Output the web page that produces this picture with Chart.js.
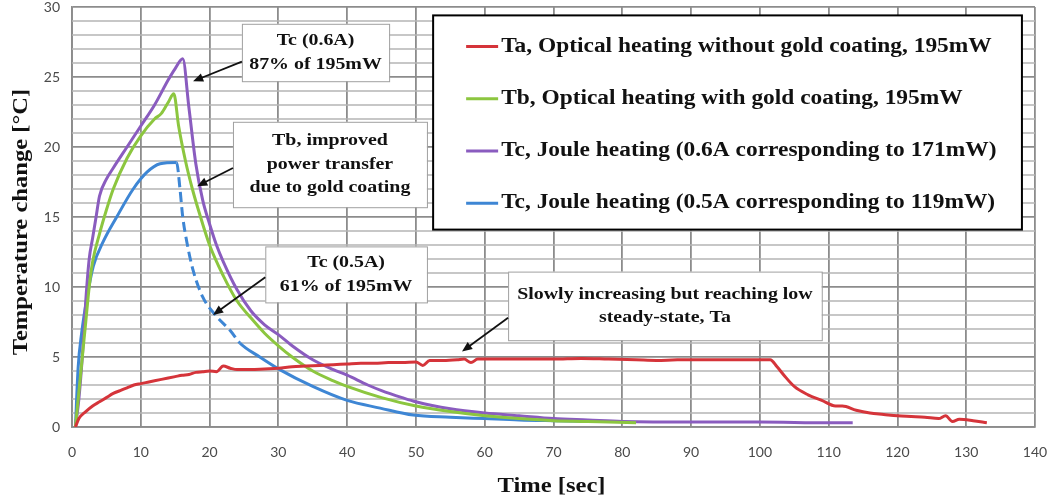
<!DOCTYPE html>
<html>
<head>
<meta charset="utf-8">
<script src="https://cdn.jsdelivr.net/npm/chart.js@4.4.0/dist/chart.umd.min.js"></script>
<style>
  html, body { margin: 0; padding: 0; background: #fff; }
  #wrap { width: 1050px; height: 502px; position: relative; }
</style>
</head>
<body>
<div id="wrap"><canvas id="tempChart"></canvas></div>
<script>
// Ta – optical heating without gold coating
const taTime = [0.5, 1, 2, 3, 4, 5, 6, 7, 8, 9, 10, 11, 12, 13, 14, 15, 16, 17, 18, 19, 20, 21, 22, 23, 24, 26, 28, 30, 32, 34, 36, 38, 40, 42, 44, 46, 48, 50, 51, 52, 54, 56, 57, 58, 59, 62, 66, 70, 74, 78, 82, 85, 88, 92, 96, 100, 101.5, 102.5, 103.5, 105, 107, 109, 111, 112, 114, 116, 118, 120, 122, 124, 126, 127, 128, 129, 131, 133];
const taVals = [0, 0.6, 1.1, 1.5, 1.8, 2.1, 2.4, 2.6, 2.8, 3.0, 3.1, 3.2, 3.3, 3.4, 3.5, 3.6, 3.7, 3.75, 3.9, 3.95, 4.0, 3.95, 4.35, 4.2, 4.1, 4.1, 4.15, 4.2, 4.3, 4.35, 4.4, 4.45, 4.5, 4.55, 4.55, 4.6, 4.6, 4.65, 4.4, 4.75, 4.75, 4.8, 4.85, 4.6, 4.85, 4.85, 4.85, 4.85, 4.9, 4.85, 4.8, 4.75, 4.8, 4.8, 4.8, 4.8, 4.8, 4.3, 3.7, 2.9, 2.3, 1.9, 1.5, 1.5, 1.2, 1.0, 0.9, 0.8, 0.75, 0.7, 0.6, 0.8, 0.4, 0.55, 0.45, 0.3];

// Tb – optical heating with gold coating
const tbTime = [0.5, 1, 1.5, 2, 2.5, 3, 4, 5, 6, 8, 10, 12, 13, 14, 14.8, 15.5, 16.5, 17.5, 18.5, 20, 22, 24, 26, 28, 30, 32, 35, 38, 40, 45, 50, 55, 60, 65, 70, 75, 78, 82];
const tbVals = [0, 2.5, 5, 7.5, 10, 11.8, 13.8, 15.5, 17, 19.2, 20.8, 22, 22.4, 23.2, 23.8, 21.5, 19, 17, 15.3, 13, 10.8, 9, 7.8, 6.7, 5.8, 5, 4, 3.3, 2.9, 2.1, 1.5, 1.1, 0.8, 0.6, 0.45, 0.4, 0.35, 0.3];

// Tc – Joule heating 0.6 A
const tc6Time = [0.5, 1, 1.5, 2, 2.5, 3, 3.5, 4, 5, 6, 8, 10, 12, 14, 15, 16.1, 17, 18, 19, 20, 21, 22, 24, 26, 28, 30, 32, 35, 38, 40, 43, 45, 48, 50, 55, 60, 65, 70, 75, 80, 90, 100, 110, 113.5];
const tc6Vals = [0, 2, 5, 9, 12, 13.5, 15, 16.5, 17.7, 18.5, 20, 21.5, 23, 24.8, 25.6, 26.3, 22.8, 18.8, 16.2, 14.5, 13, 11.8, 9.8, 8.3, 7.3, 6.6, 5.8, 4.8, 4.1, 3.7, 3.0, 2.6, 2.1, 1.8, 1.3, 1.0, 0.8, 0.6, 0.5, 0.4, 0.35, 0.35, 0.3, 0.3];

// Tc – Joule heating 0.5 A
const tc5Time = [0.5, 0.9, 1.4, 2.2, 3.1, 4.5, 6.5, 8.9, 10.9, 12.8, 15.2, 15.7, 16.1, 16.7, 17.6, 19, 21, 23, 24.4, 27.3, 30.2, 35, 40, 44.8, 49.6, 55, 60, 65, 70, 76.5];
const tc5Vals = [0, 4.3, 6.7, 9.3, 11.5, 13.2, 15.0, 17.0, 18.2, 18.8, 18.9, 17.0, 15.0, 13.2, 11.2, 9.3, 7.9, 6.9, 6.0, 5.0, 4.1, 2.9, 1.9, 1.35, 0.85, 0.7, 0.6, 0.5, 0.45, 0.4];

const seriesLabels = [
  'Ta, Optical heating without gold coating, 195mW',
  'Tb, Optical heating with gold coating, 195mW',
  'Tc, Joule heating (0.6A corresponding to 171mW)',
  'Tc, Joule heating (0.5A corresponding to 119mW)'
];
const seriesColors = ['#d5343a', '#8cc63f', '#8a5cbf', '#3e86d4'];

const xTicks = [0, 10, 20, 30, 40, 50, 60, 70, 80, 90, 100, 110, 120, 130, 140];
const yTicks = [0, 5, 10, 15, 20, 25, 30];
const yMinorStep = 1;

// callouts: box in data units, arrow from/to in data units
const callouts = [
  { lines: ['Tc (0.6A)', '87% of 195mW'], box: [24.7, 28.8, 46.1, 24.7], from: [24.7, 26.1], to: [17.6, 24.7] },
  { lines: ['Tb, improved', 'power transfer', 'due to gold coating'], box: [23.4, 21.8, 51.6, 15.7], from: [23.4, 18.5], to: [18.2, 17.2] },
  { lines: ['Tc (0.5A)', '61% of 195mW'], box: [28.1, 12.9, 51.6, 8.9], from: [28.1, 10.7], to: [20.5, 8.0] },
  { lines: ['Slowly increasing but reaching low', 'steady-state, Ta'], box: [63.4, 11.1, 109, 6.2], from: [63.4, 7.8], to: [56.7, 5.4] }
];

function pts(ts, vs) {
  return ts.map((t, i) => ({ x: t, y: vs[i] }));
}

const serif = '"Liberation Serif", "Times New Roman", serif';
const STRETCH = 1.17; // the source typeface is wider than Liberation Serif

// draw text stretched horizontally, centred or left aligned
function wideText(ctx, s, x, y, align) {
  ctx.save();
  ctx.translate(x, y);
  ctx.scale(STRETCH, 1);
  ctx.textAlign = align;
  ctx.textBaseline = 'middle';
  ctx.fillText(s, 0, 0);
  ctx.restore();
}

const overlayPlugin = {
  id: 'overlays',
  beforeDatasetsDraw(chart) {
    // minor horizontal grid, one line per degree
    const ctx = chart.ctx, a = chart.chartArea, ys = chart.scales.y;
    ctx.save();
    ctx.strokeStyle = '#b4b4b4';
    ctx.lineWidth = 1.6;
    for (let v = ys.min; v <= ys.max; v += yMinorStep) {
      if (yTicks.includes(v)) continue;
      const y = ys.getPixelForValue(v);
      ctx.beginPath();
      ctx.moveTo(a.left, y);
      ctx.lineTo(a.right, y);
      ctx.stroke();
    }
    ctx.restore();
  },
  afterDraw(chart) {
    const ctx = chart.ctx;
    const area = chart.chartArea;
    ctx.save();
    ctx.fillStyle = '#111';
    ctx.font = 'bold 21px ' + serif;
    wideText(ctx, 'Time [sec]', (area.left + area.right) / 2 - 2, 487, 'center');
    ctx.translate(22, (area.top + area.bottom) / 2 + 5);
    ctx.rotate(-Math.PI / 2);
    wideText(ctx, 'Temperature change [°C]', 0, 0, 'center');
    ctx.restore();
  },
  afterDatasetsDraw(chart) {
    const ctx = chart.ctx;
    const xs = chart.scales.x, ys = chart.scales.y;
    const px = v => xs.getPixelForValue(v);
    const py = v => ys.getPixelForValue(v);
    ctx.save();

    // callouts
    callouts.forEach(c => {
      const l = px(c.box[0]), t = py(c.box[1]), r = px(c.box[2]), b = py(c.box[3]);
      ctx.fillStyle = '#fff';
      ctx.fillRect(l, t, r - l, b - t);
      ctx.strokeStyle = '#a0a0a0';
      ctx.lineWidth = 1;
      ctx.strokeRect(l + 0.5, t + 0.5, r - l, b - t);
      ctx.fillStyle = '#111';
      ctx.font = 'bold 17px ' + serif;
      const lh = 23.5;
      const cy = (t + b) / 2 - (c.lines.length - 1) * lh / 2;
      c.lines.forEach((s, i) => wideText(ctx, s, (l + r) / 2, cy + i * lh, 'center'));

      // arrow
      const x1 = px(c.from[0]), y1 = py(c.from[1]);
      const x2 = px(c.to[0]), y2 = py(c.to[1]);
      const ang = Math.atan2(y2 - y1, x2 - x1);
      ctx.strokeStyle = '#111';
      ctx.fillStyle = '#111';
      ctx.lineWidth = 1.8;
      ctx.beginPath();
      ctx.moveTo(x1, y1);
      ctx.lineTo(x2 - 8 * Math.cos(ang), y2 - 8 * Math.sin(ang));
      ctx.stroke();
      ctx.beginPath();
      ctx.moveTo(x2, y2);
      ctx.lineTo(x2 - 11 * Math.cos(ang - 0.4), y2 - 11 * Math.sin(ang - 0.4));
      ctx.lineTo(x2 - 11 * Math.cos(ang + 0.4), y2 - 11 * Math.sin(ang + 0.4));
      ctx.closePath();
      ctx.fill();
    });

    // legend box
    const L = px(52.5), T = py(29.4), R = px(138.1), B = py(14.1);
    ctx.fillStyle = '#fff';
    ctx.fillRect(L, T, R - L, B - T);
    ctx.strokeStyle = '#000';
    ctx.lineWidth = 2;
    ctx.strokeRect(L, T, R - L, B - T);
    ctx.font = 'bold 20px ' + serif;
    seriesLabels.forEach((s, i) => {
      const y = T + 31 + i * 52.3;
      ctx.strokeStyle = seriesColors[i];
      ctx.lineWidth = 3;
      ctx.beginPath();
      ctx.moveTo(L + 33, y);
      ctx.lineTo(L + 65, y);
      ctx.stroke();
      ctx.fillStyle = '#111';
      wideText(ctx, s, L + 68, y, 'left');
    });
    ctx.restore();
  }
};

const datasets = [
  pts(taTime, taVals), pts(tbTime, tbVals), pts(tc6Time, tc6Vals), pts(tc5Time, tc5Vals)
].map((d, i) => ({
  label: seriesLabels[i],
  data: d,
  borderColor: seriesColors[i],
  backgroundColor: seriesColors[i],
  borderWidth: 3,
  pointRadius: 0,
  cubicInterpolationMode: 'monotone',
  fill: false
}));
// the 0.5A decay right after switch-off is drawn dashed in the original
datasets[3].segment = {
  borderDash: c => (c.p0.parsed.x >= 15.2 && c.p1.parsed.x <= 24.5) ? [10, 5] : undefined
};

new Chart(document.getElementById('tempChart').getContext('2d'), {
  type: 'line',
  data: { datasets: datasets },
  options: {
    responsive: true,
    maintainAspectRatio: false,
    animation: false,
    layout: { padding: { top: 7, right: 15, bottom: 0, left: 0 } },
    plugins: { legend: { display: false }, tooltip: { enabled: false } },
    scales: {
      x: {
        type: 'linear',
        min: 0, max: 140,
        afterFit: s => { s.height = 75; s.paddingLeft = 0; s.paddingRight = 0; },
        afterBuildTicks: s => { s.ticks = xTicks.map(v => ({ value: v })); },
        grid: { color: '#8c8c8c', lineWidth: 1.8, drawTicks: false },
        border: { color: '#8c8c8c', width: 1.8 },
        ticks: { color: '#4a4a4a', padding: 17, maxRotation: 0, autoSkip: false, font: { family: 'Lato', size: 14 } }
      },
      y: {
        min: 0, max: 30,
        afterFit: s => { s.width = 72; s.paddingTop = 0; s.paddingBottom = 0; },
        afterBuildTicks: s => { s.ticks = yTicks.map(v => ({ value: v })); },
        ticks: {
          autoSkip: false, color: '#4a4a4a', padding: 12,
          font: { family: 'Lato', size: 14 }
        },
        grid: { drawTicks: false, color: '#8c8c8c', lineWidth: 1.8 },
        border: { color: '#8c8c8c', width: 1.8 }
      }
    }
  },
  plugins: [overlayPlugin]
});
</script>
</body>
</html>
